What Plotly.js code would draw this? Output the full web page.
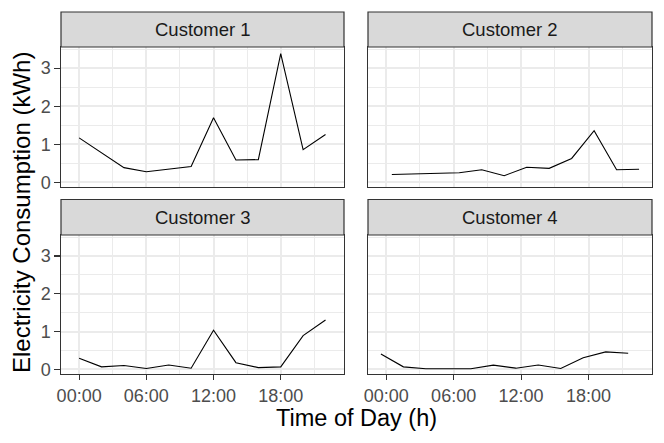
<!DOCTYPE html>
<html>
<head>
<meta charset="utf-8">
<script src="https://cdn.plot.ly/plotly-3.0.1.min.js"></script>
<style>html,body{margin:0;padding:0;background:#fff;}#chart{width:664px;height:443px;}</style>
</head>
<body>
<div id="chart"></div>
<script>
// ---- data (hours of day, kWh) ----
const customerNames = ["Customer 1", "Customer 2", "Customer 3", "Customer 4"];

const hours1 = [0, 2, 4, 6, 8, 10, 12, 14, 16, 18, 20, 22];
const kwh1   = [1.17, 0.78, 0.39, 0.28, 0.35, 0.42, 1.70, 0.59, 0.60, 3.38, 0.86, 1.26];

const hours2 = [0.5, 2.5, 4.5, 6.5, 8.5, 10.5, 12.5, 14.5, 16.5, 18.5, 20.5, 22.5];
const kwh2   = [0.21, 0.22, 0.24, 0.256, 0.335, 0.177, 0.40, 0.37, 0.63, 1.36, 0.335, 0.345];

const hours3 = [0, 2, 4, 6, 8, 10, 12, 14, 16, 18, 20, 22];
const kwh3   = [0.30, 0.07, 0.105, 0.026, 0.12, 0.035, 1.04, 0.18, 0.05, 0.07, 0.895, 1.31];

const hours4 = [-0.47, 1.53, 3.53, 5.53, 7.53, 9.53, 11.53, 13.53, 15.53, 17.53, 19.53, 21.53];
const kwh4   = [0.41, 0.07, 0.018, 0.015, 0.018, 0.114, 0.035, 0.12, 0.026, 0.31, 0.465, 0.43];

const xTickVals = [0, 6, 12, 18];
const xTickText = ["00:00", "06:00", "12:00", "18:00"];
const yTickVals = [0, 1, 2, 3];
const yTickText = ["0", "1", "2", "3"];

const xTitle = "Time of Day (h)";
const yTitle = "Electricity Consumption (kWh)";

// ---- layout geometry ----
const W = 664, H = 443;
const FONT = "Liberation Sans, Arial, Helvetica, sans-serif";
const colX = [[61, 344], [368, 652]];
const rowY = [ {strip: [12, 47], plot: [47, 186.5]}, {strip: [199.5, 235], plot: [235, 373.5]} ];
const px = v => v / W;
const py = v => 1 - v / H;

const allHours = [hours1, hours2, hours3, hours4];
const allKwh = [kwh1, kwh2, kwh3, kwh4];

const traces = [];
const layout = {
  width: W, height: H,
  margin: {l: 0, r: 0, t: 0, b: 0},
  paper_bgcolor: "#ffffff",
  plot_bgcolor: "#ffffff",
  showlegend: false,
  font: {family: FONT, color: "#4D4D4D", size: 18},
  shapes: [],
  annotations: []
};

for (let i = 0; i < 4; i++) {
  const row = Math.floor(i / 2), col = i % 2;
  const sfx = i === 0 ? "" : String(i + 1);
  traces.push({
    type: "scatter", mode: "lines",
    x: allHours[i], y: allKwh[i],
    xaxis: "x" + sfx, yaxis: "y" + sfx,
    line: {color: "#000000", width: 1.1},
    hoverinfo: "skip"
  });
  const bottom = row === 1, left = col === 0;
  layout["xaxis" + sfx] = {
    domain: [px(colX[col][0]), px(colX[col][1])],
    anchor: "y" + sfx,
    range: [-1.62, 23.65],
    tickmode: "array", tickvals: xTickVals, ticktext: xTickText,
    showticklabels: bottom,
    ticks: bottom ? "outside" : "", ticklen: 5.5, tickwidth: 1.1, tickcolor: "#333333",
    tickfont: {family: FONT, size: 18, color: "#4D4D4D"},
    showgrid: true, gridcolor: "#EBEBEB", gridwidth: 2,
    minor: {dtick: 3, tick0: 0, showgrid: true, gridcolor: "#EBEBEB", gridwidth: 1, ticks: ""},
    zeroline: false,
    showline: true, mirror: true, linecolor: "#333333", linewidth: 1.2,
    fixedrange: true
  };
  layout["yaxis" + sfx] = {
    domain: [py(rowY[row].plot[1]), py(rowY[row].plot[0])],
    anchor: "x" + sfx,
    range: [-0.106, 3.556],
    tickmode: "array", tickvals: yTickVals, ticktext: yTickText,
    showticklabels: left,
    ticks: left ? "outside" : "", ticklen: 5.5, tickwidth: 1.1, tickcolor: "#333333",
    tickfont: {family: FONT, size: 18, color: "#4D4D4D"},
    showgrid: true, gridcolor: "#EBEBEB", gridwidth: 2,
    minor: {dtick: 0.5, tick0: 0, showgrid: true, gridcolor: "#EBEBEB", gridwidth: 1, ticks: ""},
    zeroline: false,
    showline: true, mirror: true, linecolor: "#333333", linewidth: 1.2,
    fixedrange: true
  };
  // strip
  layout.shapes.push({
    type: "rect", xref: "paper", yref: "paper",
    x0: px(colX[col][0]), x1: px(colX[col][1]),
    y0: py(rowY[row].strip[1]), y1: py(rowY[row].strip[0]),
    fillcolor: "#D9D9D9", line: {color: "#333333", width: 1.2}, layer: "above"
  });
  layout.annotations.push({
    xref: "paper", yref: "paper",
    x: px((colX[col][0] + colX[col][1]) / 2),
    y: py((rowY[row].strip[0] + rowY[row].strip[1]) / 2),
    xanchor: "center", yanchor: "middle", showarrow: false,
    text: customerNames[i],
    font: {family: FONT, size: 18.5, color: "#1A1A1A"}
  });
}

layout.annotations.push({
  xref: "paper", yref: "paper",
  x: px((colX[0][0] + colX[1][1]) / 2), y: py(418),
  xanchor: "center", yanchor: "middle", showarrow: false,
  text: xTitle, font: {family: FONT, size: 23.5, color: "#000000"}
});
layout.annotations.push({
  xref: "paper", yref: "paper",
  x: px(22), y: py(213),
  xanchor: "center", yanchor: "middle", showarrow: false, textangle: -90,
  text: yTitle, font: {family: FONT, size: 24, color: "#000000"}
});

Plotly.newPlot("chart", traces, layout, {staticPlot: true, displayModeBar: false});
</script>
</body>
</html>
